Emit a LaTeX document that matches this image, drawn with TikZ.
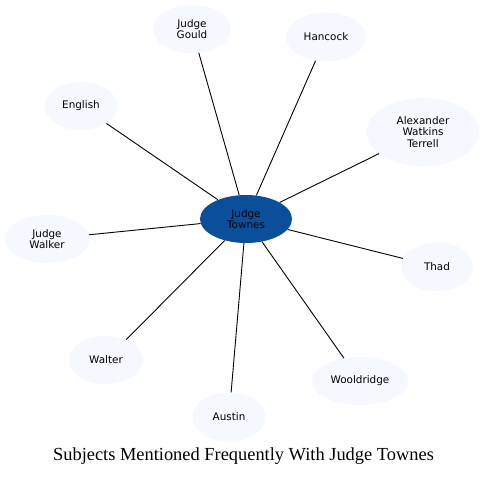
\documentclass[tikz,border=0pt]{standalone}
\usepackage{fontspec}
\setmainfont{Liberation Serif}
\newfontfamily\labelfont{DejaVu Sans}
\usetikzlibrary{shapes.geometric}
\definecolor{ink}{HTML}{000000}
\definecolor{hubblue}{HTML}{0B4F9A}
\definecolor{leafblue}{HTML}{F5F8FE}
\newcommand{\figfontsize}{\labelfont\fontsize{10.4}{11.5}\selectfont}
\tikzset{
  every picture/.style = {line join=round},
  hub/.style  = {ellipse, draw=none, fill=hubblue, inner sep=0pt,
                 align=center, text=ink, font=\figfontsize},
  leaf/.style = {ellipse, draw=none, fill=leafblue, inner sep=0pt,
                 align=center, text=ink, font=\figfontsize},
  link/.style = {line width=0.9pt, draw=ink},
}

\begin{document}
\begin{tikzpicture}[x=1pt, y=-1pt]
  \useasboundingbox (0,0) rectangle (485,477);

  % ---------- the hub ---------------------------------------------------------
  \node[hub, minimum width=92, minimum height=48] (towns) at (246,219) {Judge\\Townes};

  % ---------- the subjects round it -------------------------------------------
  \node[leaf, minimum width=78, minimum height=48] (gould)   at (192,29)  {Judge\\Gould};
  \node[leaf, minimum width=80, minimum height=49] (hancock) at (326,37)  {Hancock};
  \node[leaf, minimum width=73, minimum height=48] (english) at (81,106)  {English};
  \node[leaf, minimum width=113, minimum height=68] (terrell) at (423,132) {Alexander\\Watkins\\Terrell};
  \node[leaf, minimum width=85, minimum height=48] (walker)  at (47,239)  {Judge\\Walker};
  \node[leaf, minimum width=72, minimum height=49] (thad)    at (437,267) {Thad};
  \node[leaf, minimum width=74, minimum height=48] (walter)  at (106,360) {Walter};
  \node[leaf, minimum width=96, minimum height=48] (wool)    at (360,381) {Wooldridge};
  \node[leaf, minimum width=73, minimum height=49] (austin)  at (229,417) {Austin};

  % spokes
  \foreach \s in {gould, hancock, english, terrell, walker, thad, walter, wool, austin}
    \draw[link] (towns) -- (\s);

  \node[font=\fontsize{18.4}{22}\selectfont] (title) at (243.5,456)
    {Subjects Mentioned Frequently With Judge Townes};
\end{tikzpicture}
\end{document}
